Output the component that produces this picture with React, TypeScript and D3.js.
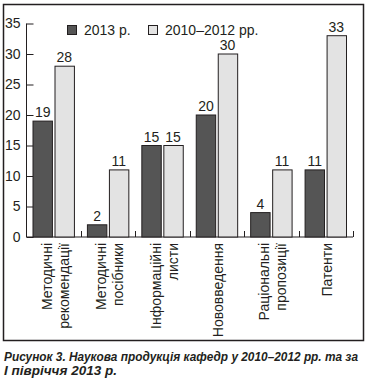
import { useEffect, useRef } from "react";
import * as d3 from "d3";

const categories = [
  ["Методичні", "рекомендації"],
  ["Методичні", "посібники"],
  ["Інформаційні", "листи"],
  ["Нововведення"],
  ["Раціональні", "пропозиції"],
  ["Патенти"],
];
const series = ["2013 р.", "2010–2012 рр."];
const values2013 = [19, 2, 15, 20, 4, 11];
const values2010 = [28, 11, 15, 30, 11, 33];
const yTicks = [0, 5, 10, 15, 20, 25, 30, 35];
const caption = [
  "Рисунок 3. Наукова продукція кафедр у 2010–2012 рр. та за",
  "І півріччя 2013 р.",
];

const colors = ["#555555", "#e3e3e3"];
const font = "'Liberation Sans', Arial, sans-serif";
const ink = "#231f20";

const App = () => {
  const ref = useRef<HTMLDivElement>(null);

  useEffect(() => {
    document.body.style.margin = "0";
    const dims = { width: 368, height: 385, left: 26.5, right: 353, top: 23.5, bottom: 237 };

    d3.select(ref.current).selectAll("*").remove();
    const svg = d3
      .select(ref.current)
      .append("svg")
      .attr("width", dims.width)
      .attr("height", dims.height)
      .style("display", "block");

    // frame
    svg
      .append("rect")
      .attr("x", 3.5)
      .attr("y", 4.5)
      .attr("width", 360)
      .attr("height", 336)
      .attr("fill", "none")
      .attr("stroke", ink)
      .attr("stroke-width", 1.5);

    const keys = categories.map((c) => c.join(" "));
    const xScale = d3.scaleBand().domain(keys).range([dims.left, dims.right]).padding(0);
    const subScale = d3.scaleBand().domain(series).range([6, 47]).paddingInner(0.1);
    const yScale = d3.scaleLinear().domain([0, 35]).range([dims.bottom, dims.top]);

    // y axis (ticks point inward)
    const axisY = d3.axisLeft(yScale).tickValues(yTicks).tickSize(-7).tickPadding(6);
    const gy = svg
      .append("g")
      .attr("transform", `translate(${dims.left},0)`)
      .call(axisY);
    gy.select(".domain").attr("stroke", ink).attr("d", `M0,${dims.bottom}V${dims.top}`);
    gy.selectAll(".tick line").attr("stroke", ink);
    gy.selectAll(".tick text")
      .attr("fill", ink)
      .attr("font-family", font)
      .attr("font-size", 14);

    // x axis with upward ticks at category boundaries
    const gx = svg.append("g");
    gx.append("line")
      .attr("x1", dims.left)
      .attr("x2", dims.right)
      .attr("y1", dims.bottom)
      .attr("y2", dims.bottom)
      .attr("stroke", ink);
    const bounds = keys.map((k) => xScale(k)! + xScale.bandwidth());
    gx.selectAll(".xtick")
      .data(bounds)
      .enter()
      .append("line")
      .attr("x1", (d) => Math.round(d) + 0.5)
      .attr("x2", (d) => Math.round(d) + 0.5)
      .attr("y1", dims.bottom)
      .attr("y2", dims.bottom - 6)
      .attr("stroke", ink);

    // bars
    const rows = keys.map((k, i) => ({ key: k, vals: [values2013[i], values2010[i]] }));
    const groups = svg
      .selectAll(".grp")
      .data(rows)
      .enter()
      .append("g")
      .attr("transform", (d) => `translate(${xScale(d.key)},0)`);

    groups
      .selectAll("rect")
      .data((d) => d.vals.map((v, j) => ({ s: series[j], v, j })))
      .enter()
      .append("rect")
      .attr("x", (d) => Math.round(subScale(d.s)!) + 0.5)
      .attr("y", (d) => yScale(d.v))
      .attr("width", subScale.bandwidth())
      .attr("height", (d) => dims.bottom - yScale(d.v))
      .attr("fill", (d) => colors[d.j])
      .attr("stroke", ink)
      .attr("stroke-width", 1);

    groups
      .selectAll(".val")
      .data((d) => d.vals.map((v, j) => ({ s: series[j], v, j })))
      .enter()
      .append("text")
      .attr("x", (d) => subScale(d.s)! + subScale.bandwidth() / 2 + 0.5)
      .attr("y", (d) => yScale(d.v) - 4)
      .attr("text-anchor", "middle")
      .attr("font-family", font)
      .attr("font-size", 14)
      .attr("fill", ink)
      .text((d) => d.v);

    // category labels
    const labels = svg
      .selectAll(".cat")
      .data(categories)
      .enter()
      .append("g")
      .attr("transform", (d, i) => `translate(${xScale(keys[i])! + xScale.bandwidth() / 2},243) rotate(-90)`);
    labels
      .selectAll("text")
      .data((d) => d.map((line, j) => ({ line, off: d.length === 1 ? 1 : j === 0 ? -7 : 10 })))
      .enter()
      .append("text")
      .attr("x", 0)
      .attr("y", (d) => d.off)
      .attr("dy", "0.36em")
      .attr("text-anchor", "end")
      .attr("font-family", font)
      .attr("font-size", 14)
      .attr("fill", ink)
      .text((d) => d.line);

    // legend
    const legendX = [67, 148];
    const legend = svg
      .selectAll(".leg")
      .data(series)
      .enter()
      .append("g")
      .attr("transform", (d, i) => `translate(${legendX[i]},25)`);
    legend
      .append("rect")
      .attr("x", 0.5)
      .attr("y", 0.5)
      .attr("width", 9)
      .attr("height", 9)
      .attr("fill", (d, i) => colors[i])
      .attr("stroke", ink);
    legend
      .append("text")
      .attr("x", 17)
      .attr("y", 10)
      .attr("font-family", font)
      .attr("font-size", 14)
      .attr("fill", ink)
      .text((d) => d);

    // caption
    const capWidths = [354, 113];
    svg
      .selectAll(".cap")
      .data(caption)
      .enter()
      .append("text")
      .attr("x", 4)
      .attr("y", (d, i) => 361 + i * 13.5)
      .attr("font-family", font)
      .attr("font-size", 12)
      .attr("font-weight", "bold")
      .attr("font-style", "italic")
      .attr("fill", ink)
      .attr("textLength", (d, i) => capWidths[i])
      .attr("lengthAdjust", "spacingAndGlyphs")
      .text((d) => d);
  }, []);

  return <div ref={ref}></div>;
};

export default App;
